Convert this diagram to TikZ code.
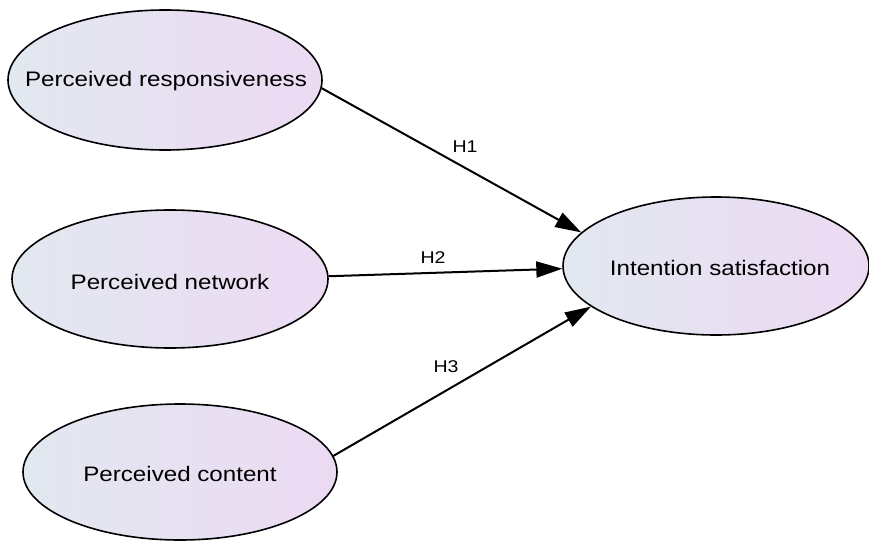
\documentclass[tikz,border=0pt]{standalone}
\usepackage{fontspec}
\setmainfont{Liberation Sans}[FakeStretch=1.15]
\usetikzlibrary{shapes.geometric,arrows.meta}
\definecolor{gleft}{RGB}{226,232,240}
\definecolor{gright}{RGB}{236,218,243}
\tikzset{
  latent/.style={ellipse, draw=black, line width=1.6pt, left color=gleft, right color=gright, inner sep=0pt, minimum width=#1},
  latent/.default=314pt,
  lbl/.style={font=\fontsize{21}{25}\selectfont, inner sep=0pt},
  hyp/.style={font=\fontsize{17}{20}\selectfont, inner sep=0pt},
  path/.style={line width=2pt, -{Triangle[length=26pt,width=16pt]}}
}
\begin{document}
\begin{tikzpicture}[x=1pt,y=-1pt]
\useasboundingbox (0,0) rectangle (869,543);
\node[latent=314pt, minimum height=140pt] (a) at (165,80) {};
\node[latent=316pt, minimum height=138pt] (b) at (170,279) {};
\node[latent=314pt, minimum height=136pt] (c) at (180,472) {};
\node[latent=306pt, minimum height=138pt] (d) at (716,266) {};
\node[lbl] (at) at (166,81) {Perceived responsiveness};
\node[lbl] (bt) at (170,282) {Perceived network};
\node[lbl] (ct) at (180,474) {Perceived content};
\node[lbl] (dt) at (720,268) {Intention satisfaction};
\draw[path] (a.-3.7) -- (d.166);
\draw[path] (b.1.5) -- (d.181.5);
\draw[path] (c.6.3) -- (d.198);
\node[hyp] (h1) at (465,147) {H1};
\node[hyp] (h2) at (433,258) {H2};
\node[hyp] (h3) at (446,367) {H3};
\end{tikzpicture}
\end{document}
